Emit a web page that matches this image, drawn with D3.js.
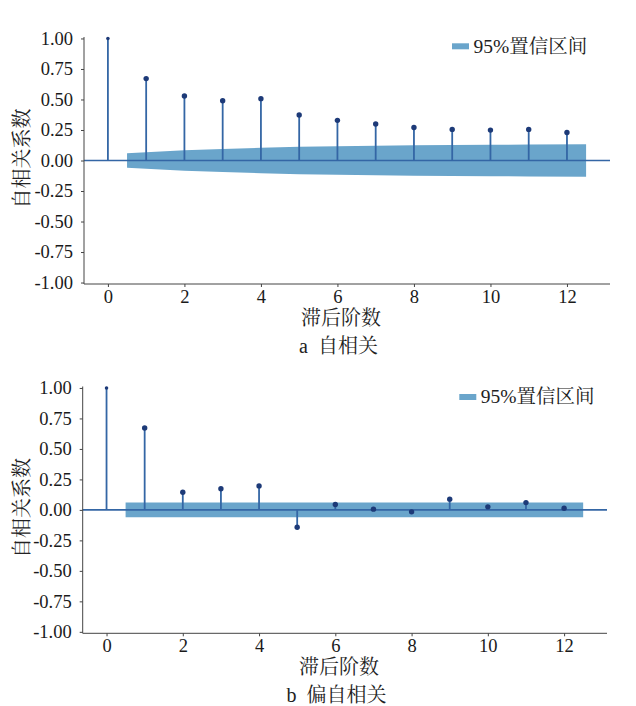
<!DOCTYPE html>
<html>
<head>
<meta charset="utf-8">
<script src="https://cdn.jsdelivr.net/npm/d3@7"></script>
<style>
    body { margin: 0; background: #fff; }
    text { font-family: "Liberation Serif", "Noto Serif CJK SC", "Noto Sans CJK SC", serif; fill: #222; }
</style>
</head>
<body>
<svg id="chart" width="636" height="706"></svg>
<script>
// lags and values
const lags = [0, 1, 2, 3, 4, 5, 6, 7, 8, 9, 10, 11, 12];
const acfValues = [1.00, 0.671, 0.529, 0.490, 0.507, 0.373, 0.329, 0.299, 0.271, 0.255, 0.249, 0.255, 0.230];
const acfConf = [0.060, 0.083, 0.095, 0.104, 0.112, 0.117, 0.121, 0.124, 0.127, 0.129, 0.131, 0.133];
const pacfValues = [1.00, 0.672, 0.145, 0.173, 0.197, -0.142, 0.044, 0.006, -0.016, 0.088, 0.025, 0.060, 0.014];
const pacfConf = [0.060, 0.060, 0.060, 0.060, 0.060, 0.060, 0.060, 0.060, 0.060, 0.060, 0.060, 0.060];

const xTicks = [0, 2, 4, 6, 8, 10, 12];
const yTicks = [1.00, 0.75, 0.50, 0.25, 0.00, -0.25, -0.50, -0.75, -1.00];
const yTickLabels = ["1.00", "0.75", "0.50", "0.25", "0.00", "-0.25", "-0.50", "-0.75", "-1.00"];

const yLabel = "自相关系数";
const xLabel = "滞后阶数";
const legendLabel = "95%置信区间";
const captions = ["a\u2002自相关", "b\u2002偏自相关"];

const fontFamily = '"Liberation Serif", "Noto Serif CJK SC", "Noto Sans CJK SC", serif';
const bandColor = "#6aa5cb";
const stemColor = "#3466a5";
const dotColor = "#1d3a78";
const axisColor = "#444";

const svg = d3.select("#chart");

function drawPanel(p) {
    const g = svg.append("g");

    const x = d3.scaleLinear()
        .domain([-0.625, 13.125])
        .range([p.left, p.right]);
    const y = d3.scaleLinear()
        .domain([-1.012, 1.012])
        .range([p.bottom, p.top]);

    // confidence band: first / last lag pushed out by half a lag
    const bandLags = lags.slice(1).map((d, i, a) => i === 0 ? d - 0.5 : (i === a.length - 1 ? d + 0.5 : d));
    const band = d3.area()
        .x((d, i) => x(bandLags[i]))
        .y0(d => y(-d))
        .y1(d => y(d));
    g.append("path")
        .datum(p.conf)
        .attr("d", band)
        .attr("fill", bandColor);

    // zero line
    g.append("line")
        .attr("x1", p.left).attr("x2", p.right)
        .attr("y1", y(0)).attr("y2", y(0))
        .attr("stroke", stemColor)
        .attr("stroke-width", 1.6);

    // stems
    g.selectAll(".stem")
        .data(p.values)
        .enter()
        .append("line")
        .attr("class", "stem")
        .attr("x1", (d, i) => x(lags[i]))
        .attr("x2", (d, i) => x(lags[i]))
        .attr("y1", y(0))
        .attr("y2", d => y(d))
        .attr("stroke", stemColor)
        .attr("stroke-width", 1.8);

    g.selectAll(".dot")
        .data(p.values)
        .enter()
        .append("circle")
        .attr("class", "dot")
        .attr("cx", (d, i) => x(lags[i]))
        .attr("cy", d => y(d))
        .attr("r", (d, i) => i === 0 ? 1.8 : 2.7)
        .attr("fill", dotColor);

    // axes
    const yAxis = d3.axisLeft(y)
        .tickValues(yTicks)
        .tickFormat((d, i) => yTickLabels[i])
        .tickSize(3)
        .tickPadding(8);
    const yg = g.append("g")
        .attr("transform", `translate(${p.left},0)`)
        .call(yAxis);

    const xAxis = d3.axisBottom(x)
        .tickValues(xTicks)
        .tickSize(3)
        .tickPadding(3);
    const xg = g.append("g")
        .attr("transform", `translate(0,${p.bottom})`)
        .call(xAxis);

    [yg, xg].forEach(a => {
        a.attr("font-family", fontFamily);
        a.select(".domain").attr("stroke", axisColor).attr("stroke-width", 1);
        a.selectAll(".tick line").attr("stroke", axisColor);
        a.selectAll(".tick text")
            .style("font-family", fontFamily)
            .style("font-size", "18.5px")
            .style("fill", "#1a1a1a");
    });
    // plain spines, no end caps
    yg.select(".domain").attr("d", `M0,${p.top}V${p.bottom}`);
    xg.select(".domain").attr("d", `M${p.left},0H${p.right}`);

    // axis titles
    g.append("text")
        .attr("transform", `translate(21.7,${(p.top + p.bottom) / 2 - 2}) rotate(-90)`)
        .attr("text-anchor", "middle")
        .attr("dy", "0.35em")
        .style("font-size", "20px")
        .text(yLabel);

    g.append("text")
        .attr("x", p.xLabelX)
        .attr("y", p.bottom + 41)
        .attr("text-anchor", "middle")
        .style("font-size", "20px")
        .text(xLabel);

    g.append("text")
        .attr("x", p.xLabelX - 2.5)
        .attr("y", p.bottom + 68.5)
        .attr("text-anchor", "middle")
        .style("font-size", "20px")
        .text(p.caption);

    // legend
    g.append("rect")
        .attr("x", p.legendX)
        .attr("y", p.legendY)
        .attr("width", 17)
        .attr("height", 6)
        .attr("fill", bandColor);
    g.append("text")
        .attr("x", p.legendX + 21.5)
        .attr("y", p.legendY + 9.3)
        .style("font-size", "19.5px")
        .text(legendLabel);
}

drawPanel({
    left: 84, right: 610, top: 37, bottom: 284,
    values: acfValues, conf: acfConf, caption: captions[0],
    xLabelX: 341, legendX: 452, legendY: 43.3
});

drawPanel({
    left: 82.7, right: 607, top: 386.5, bottom: 633.3,
    values: pacfValues, conf: pacfConf, caption: captions[1],
    xLabelX: 339, legendX: 459.3, legendY: 394
});
</script>
</body>
</html>
